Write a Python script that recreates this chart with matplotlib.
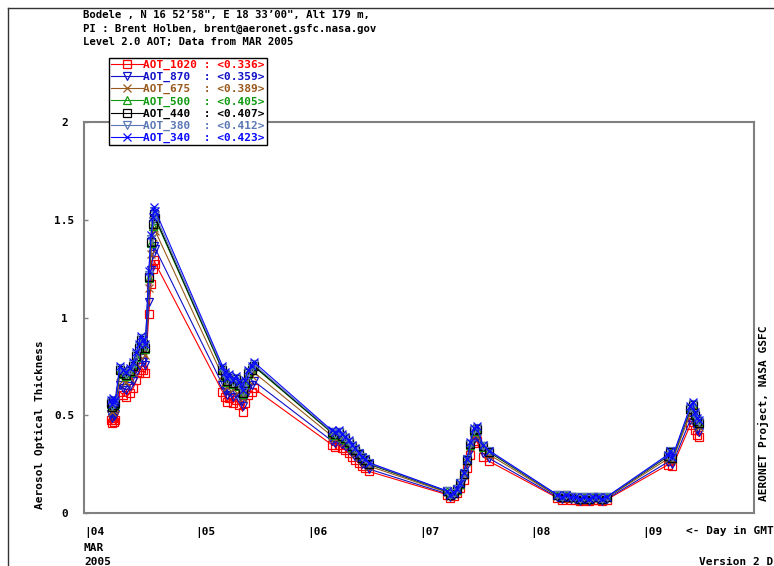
import numpy as np
import matplotlib
matplotlib.use("Agg")
import matplotlib.pyplot as plt
from matplotlib.lines import Line2D

plt.rcParams['font.family'] = ['DejaVu Sans Mono']
plt.rcParams['font.weight'] = 'bold'
plt.rcParams['font.size'] = 8

# measurement times, day of March 2005 (GMT)
days = np.array([
    4.24, 4.25, 4.26, 4.27, 4.28,
    4.32, 4.35, 4.38, 4.41, 4.44, 4.47, 4.49, 4.51, 4.53, 4.55,
    4.58, 4.60, 4.62, 4.63, 4.64,
    5.24, 5.26, 5.28, 5.30, 5.33, 5.36, 5.39, 5.42, 5.44, 5.47, 5.50, 5.52,
    6.22, 6.25, 6.28, 6.31, 6.34, 6.37, 6.40, 6.43, 6.46, 6.49, 6.52, 6.55,
    7.25, 7.28, 7.31, 7.34, 7.37, 7.40, 7.43, 7.46, 7.49, 7.52, 7.57, 7.63,
    8.24, 8.28, 8.32, 8.36, 8.40, 8.44, 8.48, 8.52, 8.56, 8.60, 8.64, 8.68,
    9.23, 9.25, 9.27, 9.43, 9.45, 9.47, 9.49, 9.51,
])

aot_1020 = [
    0.476, 0.459, 0.485, 0.468, 0.476,
    0.621, 0.604, 0.595, 0.612, 0.638, 0.680, 0.714, 0.748, 0.731, 0.714,
    1.020, 1.173, 1.250, 1.292, 1.275,
    0.621, 0.595, 0.570, 0.587, 0.561, 0.578, 0.553, 0.519, 0.561, 0.604, 0.621, 0.638,
    0.349, 0.340, 0.349, 0.332, 0.323, 0.306, 0.289, 0.272, 0.255, 0.238, 0.230, 0.213,
    0.094, 0.077, 0.085, 0.102, 0.128, 0.170, 0.230, 0.298, 0.357, 0.366, 0.289, 0.264,
    0.077, 0.068, 0.077, 0.068, 0.068, 0.060, 0.068, 0.060, 0.068, 0.068, 0.060, 0.068,
    0.247, 0.264, 0.238, 0.451, 0.468, 0.425, 0.400, 0.391,
]
aot_870 = [
    0.504, 0.486, 0.513, 0.495, 0.504,
    0.657, 0.639, 0.630, 0.648, 0.675, 0.720, 0.756, 0.792, 0.774, 0.756,
    1.080, 1.242, 1.323, 1.368, 1.350,
    0.657, 0.630, 0.603, 0.621, 0.594, 0.612, 0.585, 0.549, 0.594, 0.639, 0.657, 0.675,
    0.369, 0.360, 0.369, 0.351, 0.342, 0.324, 0.306, 0.288, 0.270, 0.252, 0.243, 0.225,
    0.099, 0.081, 0.090, 0.108, 0.135, 0.180, 0.243, 0.315, 0.378, 0.387, 0.306, 0.279,
    0.081, 0.072, 0.081, 0.072, 0.072, 0.063, 0.072, 0.063, 0.072, 0.072, 0.063, 0.072,
    0.261, 0.279, 0.252, 0.477, 0.495, 0.450, 0.423, 0.414,
]
aot_675 = [
    0.538, 0.518, 0.547, 0.528, 0.538,
    0.701, 0.682, 0.672, 0.691, 0.720, 0.768, 0.806, 0.845, 0.826, 0.806,
    1.152, 1.325, 1.411, 1.459, 1.440,
    0.701, 0.672, 0.643, 0.662, 0.634, 0.653, 0.624, 0.586, 0.634, 0.682, 0.701, 0.720,
    0.394, 0.384, 0.394, 0.374, 0.365, 0.346, 0.326, 0.307, 0.288, 0.269, 0.259, 0.240,
    0.106, 0.086, 0.096, 0.115, 0.144, 0.192, 0.259, 0.336, 0.403, 0.413, 0.326, 0.298,
    0.086, 0.077, 0.086, 0.077, 0.077, 0.067, 0.077, 0.067, 0.077, 0.077, 0.067, 0.077,
    0.278, 0.298, 0.269, 0.509, 0.528, 0.480, 0.451, 0.442,
]
aot_500 = [
    0.56, 0.54, 0.57, 0.55, 0.56,
    0.73, 0.71, 0.70, 0.72, 0.75, 0.80, 0.84, 0.88, 0.86, 0.84,
    1.20, 1.38, 1.47, 1.52, 1.50,
    0.73, 0.70, 0.67, 0.69, 0.66, 0.68, 0.65, 0.61, 0.66, 0.71, 0.73, 0.75,
    0.41, 0.40, 0.41, 0.39, 0.38, 0.36, 0.34, 0.32, 0.30, 0.28, 0.27, 0.25,
    0.11, 0.09, 0.10, 0.12, 0.15, 0.20, 0.27, 0.35, 0.42, 0.43, 0.34, 0.31,
    0.09, 0.08, 0.09, 0.08, 0.08, 0.07, 0.08, 0.07, 0.08, 0.08, 0.07, 0.08,
    0.29, 0.31, 0.28, 0.53, 0.55, 0.50, 0.47, 0.46,
]
aot_440 = [
    0.563, 0.543, 0.573, 0.553, 0.563,
    0.734, 0.714, 0.704, 0.724, 0.754, 0.804, 0.844, 0.884, 0.864, 0.844,
    1.206, 1.387, 1.477, 1.528, 1.508,
    0.734, 0.704, 0.673, 0.693, 0.663, 0.683, 0.653, 0.613, 0.663, 0.714, 0.734, 0.754,
    0.412, 0.402, 0.412, 0.392, 0.382, 0.362, 0.342, 0.322, 0.302, 0.281, 0.271, 0.251,
    0.111, 0.090, 0.101, 0.121, 0.151, 0.201, 0.271, 0.352, 0.422, 0.432, 0.342, 0.312,
    0.090, 0.080, 0.090, 0.080, 0.080, 0.070, 0.080, 0.070, 0.080, 0.080, 0.070, 0.080,
    0.291, 0.312, 0.281, 0.533, 0.553, 0.503, 0.472, 0.462,
]
aot_380 = [
    0.568, 0.548, 0.579, 0.558, 0.568,
    0.741, 0.721, 0.711, 0.731, 0.761, 0.812, 0.853, 0.893, 0.873, 0.853,
    1.218, 1.401, 1.492, 1.543, 1.523,
    0.741, 0.711, 0.680, 0.700, 0.670, 0.690, 0.660, 0.619, 0.670, 0.721, 0.741, 0.761,
    0.416, 0.406, 0.416, 0.396, 0.386, 0.365, 0.345, 0.325, 0.305, 0.284, 0.274, 0.254,
    0.112, 0.091, 0.102, 0.122, 0.152, 0.203, 0.274, 0.355, 0.426, 0.436, 0.345, 0.315,
    0.091, 0.081, 0.091, 0.081, 0.081, 0.071, 0.081, 0.071, 0.081, 0.081, 0.071, 0.081,
    0.294, 0.315, 0.284, 0.538, 0.558, 0.508, 0.477, 0.467,
]
aot_340 = [
    0.577, 0.556, 0.587, 0.567, 0.577,
    0.752, 0.731, 0.721, 0.742, 0.773, 0.824, 0.865, 0.906, 0.886, 0.865,
    1.236, 1.421, 1.514, 1.566, 1.545,
    0.752, 0.721, 0.690, 0.711, 0.680, 0.700, 0.670, 0.628, 0.680, 0.731, 0.752, 0.773,
    0.422, 0.412, 0.422, 0.402, 0.391, 0.371, 0.350, 0.330, 0.309, 0.288, 0.278, 0.258,
    0.113, 0.093, 0.103, 0.124, 0.155, 0.206, 0.278, 0.361, 0.433, 0.443, 0.350, 0.319,
    0.093, 0.082, 0.093, 0.082, 0.082, 0.072, 0.082, 0.072, 0.082, 0.082, 0.072, 0.082,
    0.299, 0.319, 0.288, 0.546, 0.567, 0.515, 0.484, 0.474,
]

names = ['AOT_1020', 'AOT_870', 'AOT_675', 'AOT_500', 'AOT_440', 'AOT_380', 'AOT_340']
means = ['0.336', '0.359', '0.389', '0.405', '0.407', '0.412', '0.423']
series = [aot_1020, aot_870, aot_675, aot_500, aot_440, aot_380, aot_340]
colors = ['#ff0000', '#1010c8', '#9a5a1e', '#109a10', '#000000', '#5a78b4', '#0a0aff']
markers = ['s', 'v', 'x', '^', 's', 'v', 'x']

day_ticks = [4, 5, 6, 7, 8, 9]
day_labels = ['|04', '|05', '|06', '|07', '|08', '|09']

fig = plt.figure(figsize=(7.74, 5.66), dpi=100)
ax = fig.add_axes([84 / 774, 53 / 566, 670 / 774, 391 / 566])

handles = []
for name, vals, c, m in zip(names, series, colors, markers):
    ln, = ax.plot(days, vals, color=c, lw=0.8, marker=m, ms=6,
                  mfc='none', mec=c, mew=0.9)
    handles.append(ln)

ax.set_xlim(4, 10)
ax.set_ylim(0, 2)
ax.set_yticks([0, 0.5, 1, 1.5, 2])
ax.set_yticklabels(['0', '0.5', '1', '1.5', '2'])
ax.tick_params(axis='y', direction='in', length=3, width=1, color='#808080',
               pad=14, labelsize=8)
for t in ax.get_yticklabels():
    t.set_ha('center')
ax.set_xticks(day_ticks)
ax.set_xticklabels(day_labels, ha='left')
ax.tick_params(axis='x', length=0, pad=10, labelsize=8)
for s in ax.spines.values():
    s.set_color('#808080')
    s.set_linewidth(1.5)

labels = [f'{n:<8} : <{v}>' for n, v in zip(names, means)]
leg = fig.legend(handles, labels, loc='upper left',
                 bbox_to_anchor=(109 / 774, 1 - 58 / 566),
                 frameon=True, fancybox=False, framealpha=1, edgecolor='black',
                 borderpad=0.15, borderaxespad=0, handlelength=2.9,
                 handletextpad=0.05, labelspacing=0.18, labelcolor=colors,
                 prop={'family': 'DejaVu Sans Mono', 'weight': 'bold', 'size': 8})
leg.get_frame().set_linewidth(1.0)

# header lines
hdr = {'va': 'center', 'ha': 'left', 'fontsize': 7.7}
fig.text(83 / 774, 1 - 15 / 566, 'Bodele , N 16 52\u201958", E 18 33\u201900", Alt 179 m,', **hdr)
fig.text(83 / 774, 1 - 29 / 566, 'PI : Brent Holben, brent@aeronet.gsfc.nasa.gov', **hdr)
fig.text(83 / 774, 1 - 42 / 566, 'Level 2.0 AOT; Data from MAR 2005', **hdr)

fig.text(40 / 774, 1 - 425 / 566, 'Aerosol Optical Thickness', rotation=90,
         va='center', ha='center')
fig.text(763 / 774, 1 - 413 / 566, 'AERONET Project, NASA GSFC', rotation=90,
         va='center', ha='center')
fig.text(686 / 774, 1 - 531 / 566, '<- Day in GMT', va='center', ha='left')
fig.text(84 / 774, 1 - 548 / 566, 'MAR', va='center', ha='left')
fig.text(84 / 774, 1 - 562 / 566, '2005', va='center', ha='left')
fig.text(699 / 774, 1 - 562 / 566, 'Version 2 DS', va='center', ha='left')

# outer frame (left and top edges)
fig.add_artist(Line2D([8 / 774, 8 / 774], [0, 1 - 8 / 566], color='#333333', lw=1))
fig.add_artist(Line2D([8 / 774, 1], [1 - 8 / 566, 1 - 8 / 566], color='#333333', lw=1))

fig.savefig('out.png', dpi=100)
